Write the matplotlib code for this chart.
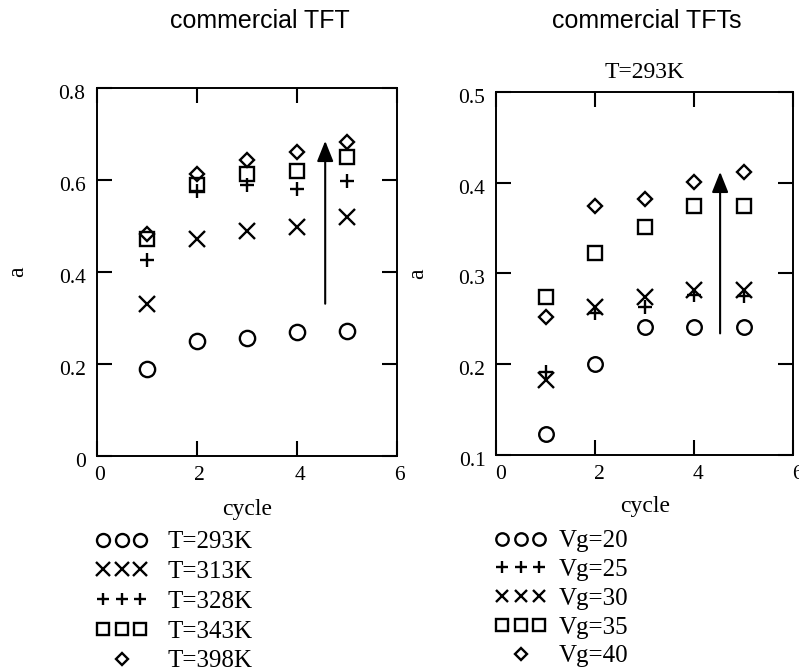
#!/usr/bin/env python3
"""Two-panel scatter of fitted exponent a vs. stress cycle for commercial TFTs."""

import matplotlib

matplotlib.use("Agg")
import matplotlib.pyplot as plt
import matplotlib.transforms as mtrans
from matplotlib.legend_handler import HandlerLine2D

SERIF = ["Liberation Serif", "DejaVu Serif"]
SANS = ["Liberation Sans", "DejaVu Sans"]

# ---------------------------------------------------------------------------
# Data
# ---------------------------------------------------------------------------

cycles = [1, 2, 3, 4, 5]

# left panel: different temperatures
temp_labels = ["T=293K", "T=313K", "T=328K", "T=343K", "T=398K"]
a_293 = [0.189, 0.249, 0.257, 0.270, 0.271]
a_313 = [0.330, 0.472, 0.490, 0.497, 0.519]
a_328 = [0.427, 0.577, 0.588, 0.581, 0.597]
a_343 = [0.472, 0.588, 0.612, 0.619, 0.649]
a_398 = [0.483, 0.613, 0.644, 0.660, 0.683]

# right panel: different gate voltages at T=293K
vg_labels = ["Vg=20", "Vg=25", "Vg=30", "Vg=35", "Vg=40"]
a_vg20 = [0.123, 0.200, 0.241, 0.241, 0.241]
a_vg25 = [0.192, 0.256, 0.263, 0.276, 0.275]
a_vg30 = [0.183, 0.263, 0.274, 0.282, 0.282]
a_vg35 = [0.274, 0.323, 0.351, 0.374, 0.374]
a_vg40 = [0.252, 0.374, 0.382, 0.401, 0.412]

# trend arrows: (x, y_start, y_end)
arrow_left = (4.57, 0.331, 0.685)
arrow_right = (4.52, 0.234, 0.412)

# marker style per series: (marker, size in pt)
left_styles = [("o", 11), ("x", 11.5), ("+", 10.5), ("s", 10), ("D", 6.8)]
right_styles = [("o", 10.5), ("+", 10.5), ("x", 11), ("s", 10), ("D", 6.8)]


def shift_labels(fig, labels, dx_px, dy_px):
    off = mtrans.ScaledTranslation(dx_px / fig.dpi, dy_px / fig.dpi, fig.dpi_scale_trans)
    for lab in labels:
        lab.set_transform(lab.get_transform() + off)


def style_axes(fig, ax, ylim, yticks, xshift):
    ax.set_xlim(0, 6)
    ax.set_ylim(*ylim)
    ax.set_xticks([0, 2, 4, 6])
    ax.set_yticks(yticks)
    ax.tick_params(direction="in", length=11, width=1.5, top=True, right=True,
                   labelsize=15.5, labelfontfamily=SERIF)
    ax.tick_params(axis="x", pad=7)
    ax.tick_params(axis="y", pad=8)
    ax.set_yticklabels([f"{v:g}" for v in yticks])
    shift_labels(fig, ax.get_xticklabels(), xshift, 0)
    shift_labels(fig, ax.get_yticklabels(), 0, -4)
    for sp in ax.spines.values():
        sp.set_linewidth(1.4)
    ax.set_xlabel("cycle", fontsize=17, family=SERIF)
    ax.set_ylabel("a", fontsize=17, family=SERIF)


def draw_series(ax, series, labels, styles):
    handles = []
    for ys, lab, (mk, ms) in zip(series, labels, styles):
        (h,) = ax.plot(cycles, ys, linestyle="none", marker=mk, markersize=ms,
                       markerfacecolor="none", markeredgecolor="black",
                       markeredgewidth=1.7, label=lab)
        handles.append(h)
    return handles


def draw_arrow(ax, arrow):
    x, y0, y1 = arrow
    ax.annotate("", xy=(x, y1), xytext=(x, y0),
                arrowprops=dict(arrowstyle="-|>,head_length=0.5,head_width=0.2",
                                color="black", lw=1.5, mutation_scale=25,
                                shrinkA=0, shrinkB=0))


def add_legend(ax, fig, handles, anchor, textpad, spacing):
    hmap = {handles[-1]: HandlerLine2D(numpoints=1)}
    ax.legend(handles=handles, loc="upper left", bbox_to_anchor=anchor,
              bbox_transform=fig.transFigure, frameon=False, numpoints=3,
              handlelength=2.05, handletextpad=textpad, labelspacing=spacing,
              borderpad=0, borderaxespad=0, markerscale=0.85,
              prop={"family": SERIF, "size": 18}, handler_map=hmap)


def main():
    fig = plt.figure(figsize=(7.99, 6.70), dpi=100)
    ax_l = fig.add_axes([0.1210, 0.3194, 0.3755, 0.5493])
    ax_r = fig.add_axes([0.6214, 0.3209, 0.3715, 0.5418])

    # --- left: temperature ---
    style_axes(fig, ax_l, (0, 0.8), [0, 0.2, 0.4, 0.6, 0.8], 3)
    h_l = draw_series(ax_l, [a_293, a_313, a_328, a_343, a_398],
                      temp_labels, left_styles)
    draw_arrow(ax_l, arrow_left)
    ax_l.xaxis.set_label_coords(0.5, -0.118)
    ax_l.yaxis.set_label_coords(-0.229, 0.5)
    add_legend(ax_l, fig, h_l, (0.120, 0.2075), 0.8, 0.29)

    # --- right: gate voltage ---
    style_axes(fig, ax_r, (0.1, 0.5), [0.1, 0.2, 0.3, 0.4, 0.5], 4)
    h_r = draw_series(ax_r, [a_vg20, a_vg25, a_vg30, a_vg35, a_vg40],
                      vg_labels, right_styles)
    draw_arrow(ax_r, arrow_right)
    ax_r.xaxis.set_label_coords(0.5, -0.113)
    ax_r.yaxis.set_label_coords(-0.231, 0.5)
    add_legend(ax_r, fig, h_r, (0.6195, 0.209), 0.5, 0.25)

    # titles
    fig.text(170 / 799, 1 - 28 / 670, "commercial TFT", ha="left", va="baseline",
             fontsize=18, family=SANS)
    fig.text(552 / 799, 1 - 28 / 670, "commercial TFTs", ha="left", va="baseline",
             fontsize=18, family=SANS)
    fig.text(605 / 799, 1 - 78 / 670, "T=293K", ha="left", va="baseline",
             fontsize=17, family=SERIF)

    fig.savefig("out.png", dpi=100)
    plt.close(fig)


if __name__ == "__main__":
    main()
